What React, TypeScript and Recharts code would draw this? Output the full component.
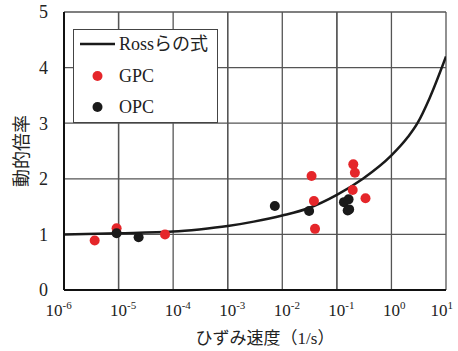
import { ComposedChart, Line, Scatter, XAxis, YAxis, CartesianGrid, Legend, ReferenceLine } from "recharts"

// Ross curve
const rossRate = [1e-6, 1e-5, 1e-4, 3e-4, 1e-3, 3e-3, 1e-2, 3e-2, 0.1, 0.3, 1, 2, 3, 5, 10]
const rossDif = [1.0, 1.02, 1.05, 1.09, 1.15, 1.23, 1.34, 1.47, 1.71, 2.0, 2.42, 2.75, 3.0, 3.45, 4.2]

// GPC (red)
const gpcRate = [3.65e-6, 9.2e-6, 7.1e-5, 0.0344, 0.038, 0.0398, 0.2, 0.214, 0.195, 0.335]
const gpcDif = [0.89, 1.11, 1.0, 2.05, 1.6, 1.1, 2.26, 2.11, 1.8, 1.65]

// OPC (black)
const opcRate = [9.2e-6, 2.33e-5, 0.0073, 0.031, 0.135, 0.164, 0.158, 0.168]
const opcDif = [1.02, 0.95, 1.51, 1.42, 1.58, 1.63, 1.43, 1.45]

const xTicks = [1e-6, 1e-5, 1e-4, 1e-3, 1e-2, 1e-1, 1, 10]
const yTicks = [0, 1, 2, 3, 4, 5]

const rossData = rossRate.map((x, i) => ({ x, y: rossDif[i] }))
const gpcData = gpcRate.map((x, i) => ({ x, y: gpcDif[i] }))
const opcData = opcRate.map((x, i) => ({ x, y: opcDif[i] }))

const SERIF = "'Liberation Serif', 'Noto Sans CJK JP', serif"
const RED = "#e5262a"
const BLACK = "#1a1a1a"
const GRID = "#555"

const W = 458
const H = 351
const MARGIN = { top: 12, right: 12, bottom: 16, left: 4 }
const Y_AXIS_W = 60

// decade grid lines for the log axis (plot box follows from the margins above)
const plotLeft = MARGIN.left + Y_AXIS_W
const plotWidth = W - plotLeft - MARGIN.right
const logLo = Math.log10(xTicks[0])
const logHi = Math.log10(xTicks[xTicks.length - 1])
const gridX = xTicks.map((t) => plotLeft + (plotWidth * (Math.log10(t) - logLo)) / (logHi - logLo))

const XTick = (props: any) => {
    const { x, y, payload, index } = props
    const exp = Math.round(Math.log10(payload.value))
    let shift = 0
    if (index === 0) shift = -10
    if (index === xTicks.length - 1) shift = -7
    return (
        <text x={x + shift - 8.5} y={y + 18} fontSize={17} fontFamily={SERIF} fill="#222" textAnchor="start">
            10
            <tspan dy={-7} fontSize={11}>{exp}</tspan>
        </text>
    )
}

const Dot = (color: string) => (props: any) => (
    <circle cx={props.cx} cy={props.cy} r={5} fill={color} />
)

const LegendBox = () => (
    <div style={{ width: 145, height: 94, border: "1.5px solid #444", background: "#fff", boxSizing: "border-box" }}>
        <svg width={142} height={91} style={{ display: "block" }}>
            <line x1={6} y1={14} x2={41} y2={14} stroke={BLACK} strokeWidth={2.5} />
            <text x={45} y={20} fontSize={18} fontFamily={SERIF} fill="#222">Rossらの式</text>
            <circle cx={23.5} cy={46} r={5} fill={RED} />
            <text x={45} y={52} fontSize={18} fontFamily={SERIF} fill="#222">GPC</text>
            <circle cx={23.5} cy={77} r={5} fill={BLACK} />
            <text x={45} y={83} fontSize={18} fontFamily={SERIF} fill="#222">OPC</text>
        </svg>
    </div>
)

export default function App() {
    return (
        <div style={{ position: "absolute", left: 0, top: 0, background: "#fff" }}>
            <ComposedChart width={W} height={H} margin={MARGIN}>
                <CartesianGrid stroke={GRID} strokeWidth={1.3} vertical={false} />
                <CartesianGrid stroke={GRID} strokeWidth={1.3} horizontal={false} verticalPoints={gridX} />
                <XAxis
                    dataKey="x"
                    type="number"
                    scale="log"
                    domain={[1e-6, 10]}
                    ticks={xTicks}
                    interval={0}
                    allowDataOverflow
                    height={45}
                    tickLine={false}
                    axisLine={{ stroke: "#111", strokeWidth: 2 }}
                    tick={<XTick />}
                    label={{
                        content: () => (
                            <text x={265} y={338} fontSize={17} fontFamily={SERIF} fill="#222" textAnchor="middle" dominantBaseline="central">
                                ひずみ速度（1/s）
                            </text>
                        ),
                    }}
                />
                <YAxis
                    type="number"
                    domain={[0, 5]}
                    ticks={yTicks}
                    interval={0}
                    width={Y_AXIS_W}
                    tickLine={false}
                    tickMargin={10}
                    axisLine={{ stroke: "#111", strokeWidth: 2 }}
                    tick={{ fontSize: 18, fontFamily: SERIF, fill: "#222" }}
                    label={{
                        content: () => (
                            <text x={22} y={151} transform="rotate(-90 22 151)" fontSize={18} fontFamily={SERIF} fill="#222" textAnchor="middle" dominantBaseline="central">
                                動的倍率
                            </text>
                        ),
                    }}
                />
                <ReferenceLine x={xTicks[1]} stroke={GRID} strokeWidth={1.3} ifOverflow="visible" />
                <ReferenceLine x={xTicks[3]} stroke={GRID} strokeWidth={1.3} ifOverflow="visible" />
                <ReferenceLine x={xTicks[5]} stroke={GRID} strokeWidth={1.3} ifOverflow="visible" />
                <Legend
                    layout="horizontal"
                    verticalAlign="middle"
                    align="center"
                    content={<LegendBox />}
                    wrapperStyle={{ left: 73, top: 29, width: 145, height: 94 }}
                />
                <Line data={rossData} dataKey="y" type="monotone" dot={false} stroke={BLACK} strokeWidth={2.5} isAnimationActive={false} />
                <Scatter data={gpcData} dataKey="y" shape={Dot(RED)} isAnimationActive={false} />
                <Scatter data={opcData} dataKey="y" shape={Dot(BLACK)} isAnimationActive={false} />
            </ComposedChart>
        </div>
    )
}
